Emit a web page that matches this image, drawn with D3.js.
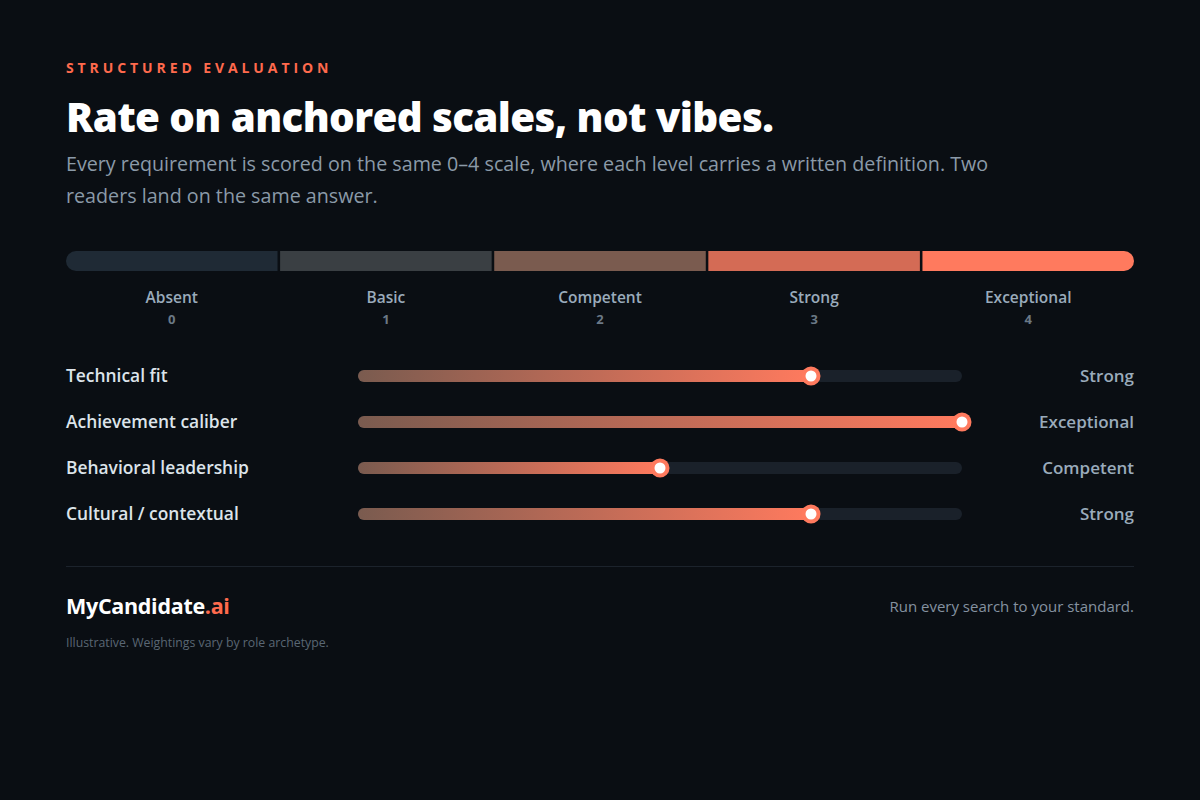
<!DOCTYPE html>
<html>
<head>
<meta charset="utf-8">
<script src="https://cdn.jsdelivr.net/npm/d3@7"></script>
<style>
  html, body { margin: 0; padding: 0; background: #0a0e13; }
  svg { display: block; font-family: "Open Sans", "Noto Sans", sans-serif; }
</style>
</head>
<body>
<svg id="chart" width="1200" height="800"></svg>
<script>
// scale levels
var levels      = ["Absent", "Basic", "Competent", "Strong", "Exceptional"];
var levelScores = [0, 1, 2, 3, 4];
var levelColors = ["#1f2a35", "#3a3f43", "#7a5b4f", "#d46b55", "#ff7a5e"];

// requirement ratings
var requirements = ["Technical fit", "Achievement caliber", "Behavioral leadership", "Cultural / contextual"];
var ratings      = [3, 4, 2, 3];

var svg = d3.select("#chart");
var left = 66, right = 1134;

// header
svg.append("text").attr("x", left).attr("y", 73)
   .text("STRUCTURED EVALUATION")
   .style("fill", "#ff6a4d").style("font-size", "14px").style("font-weight", 700)
   .style("letter-spacing", "3.9px");

svg.append("text").attr("x", left).attr("y", 132)
   .text("Rate on anchored scales, not vibes.")
   .style("fill", "#ffffff").style("font-size", "40.3px").style("font-weight", 800)
   .style("letter-spacing", "-0.6px");

var sub = ["Every requirement is scored on the same 0\u20134 scale, where each level carries a written definition. Two",
           "readers land on the same answer."];
svg.selectAll(".sub").data(sub).enter().append("text")
   .attr("class", "sub").attr("x", left).attr("y", function(d, i) { return 171 + i * 32; })
   .text(function(d) { return d; })
   .style("fill", "#8b9aa8").style("font-size", "19.7px");

// anchored scale bar
var xBand = d3.scaleBand().domain(levelScores).range([left, right]).paddingInner(0.012);
var barY = 251, barH = 20;

svg.append("clipPath").attr("id", "barClip")
   .append("rect").attr("x", left).attr("y", barY).attr("width", right - left).attr("height", barH)
   .attr("rx", 10);

svg.append("g").attr("clip-path", "url(#barClip)")
   .selectAll("rect").data(levelScores).enter().append("rect")
   .attr("x", function(d) { return xBand(d); })
   .attr("y", barY)
   .attr("width", xBand.bandwidth())
   .attr("height", barH)
   .style("fill", function(d, i) { return levelColors[i]; });

var lv = svg.selectAll(".lvl").data(levelScores).enter().append("g").attr("class", "lvl");
lv.append("text")
   .attr("x", function(d) { return xBand(d) + xBand.bandwidth() / 2; })
   .attr("y", 303).attr("text-anchor", "middle")
   .text(function(d, i) { return levels[i]; })
   .style("fill", "#9aabbb").style("font-size", "15.5px").style("font-weight", 600);
lv.append("text")
   .attr("x", function(d) { return xBand(d) + xBand.bandwidth() / 2; })
   .attr("y", 324).attr("text-anchor", "middle")
   .text(function(d) { return d; })
   .style("fill", "#6b7986").style("font-size", "13px").style("font-weight", 700);

// rating rows
var trackX0 = 358, trackX1 = 962;
var xRate = d3.scaleLinear().domain([0, 4]).range([trackX0, trackX1]);
var yRow = d3.scalePoint().domain(requirements).range([376, 514]);

var defs = svg.append("defs");
var grad = defs.append("linearGradient").attr("id", "fillGrad")
   .attr("x1", "0%").attr("x2", "100%").attr("y1", "0%").attr("y2", "0%");
grad.append("stop").attr("offset", "0%").attr("stop-color", "#7a5b4f");
grad.append("stop").attr("offset", "100%").attr("stop-color", "#ff7a5e");

var rows = svg.selectAll(".row").data(requirements).enter().append("g").attr("class", "row")
   .attr("transform", function(d) { return "translate(0," + yRow(d) + ")"; });

rows.append("text").attr("x", left).attr("y", 6)
   .text(function(d) { return d; })
   .style("fill", "#dde4ea").style("font-size", "17.4px").style("font-weight", 600);

rows.append("rect").attr("x", trackX0).attr("y", -6)
   .attr("width", trackX1 - trackX0).attr("height", 12).attr("rx", 6)
   .style("fill", "#1a212a");

rows.append("rect").attr("x", trackX0).attr("y", -6)
   .attr("width", function(d, i) { return xRate(ratings[i]) - trackX0; })
   .attr("height", 12).attr("rx", 6)
   .style("fill", "url(#fillGrad)");

rows.append("circle")
   .attr("cx", function(d, i) { return xRate(ratings[i]); }).attr("cy", 0).attr("r", 9.5)
   .style("fill", "#ff7a5e");
rows.append("circle")
   .attr("cx", function(d, i) { return xRate(ratings[i]); }).attr("cy", 0).attr("r", 5.5)
   .style("fill", "#ffffff");

rows.append("text").attr("x", right).attr("y", 6).attr("text-anchor", "end")
   .text(function(d, i) { return levels[ratings[i]]; })
   .style("fill", "#9aabbb").style("font-size", "17px").style("font-weight", 600);

// footer
svg.append("line").attr("x1", left).attr("x2", right).attr("y1", 566.5).attr("y2", 566.5)
   .style("stroke", "#1c232c").style("stroke-width", 1);

var brand = svg.append("text").attr("x", left).attr("y", 614)
   .style("font-size", "21.5px").style("font-weight", 700).style("letter-spacing", "-0.3px");
brand.append("tspan").text("MyCandidate").style("fill", "#ffffff");
brand.append("tspan").text(".ai").style("fill", "#ff6a4d");

svg.append("text").attr("x", right).attr("y", 612).attr("text-anchor", "end")
   .text("Run every search to your standard.")
   .style("fill", "#8592a0").style("font-size", "15px");

svg.append("text").attr("x", left).attr("y", 647)
   .text("Illustrative. Weightings vary by role archetype.")
   .style("fill", "#5a6774").style("font-size", "12.3px");
</script>
</body>
</html>
